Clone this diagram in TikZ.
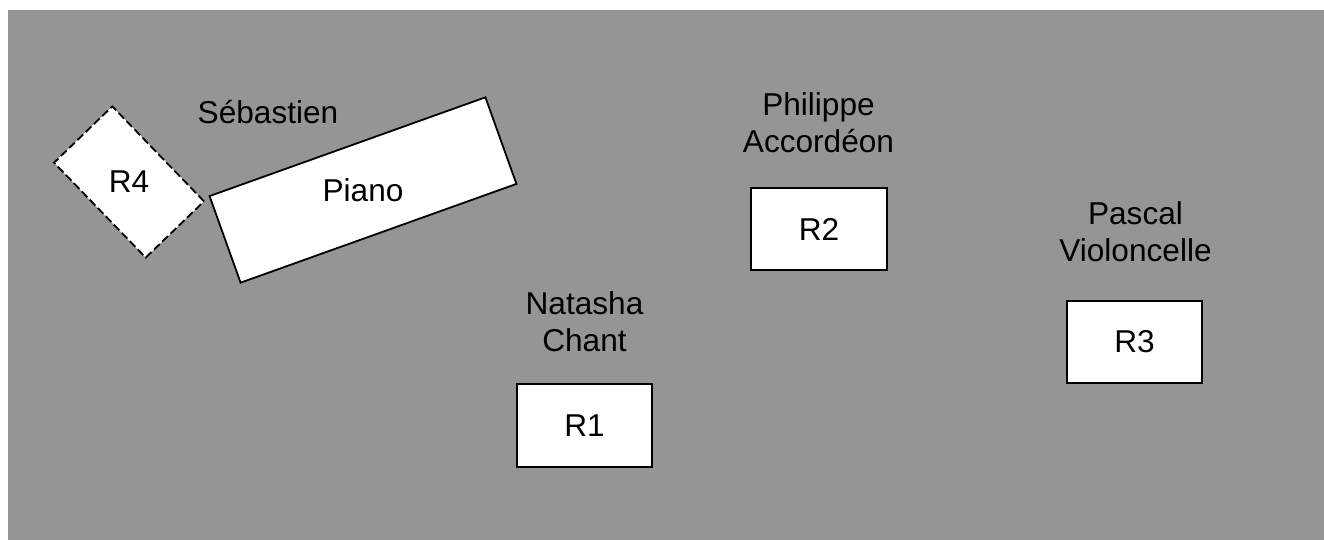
\documentclass[tikz,border=0pt]{standalone}
\usepackage{fontspec}
\setmainfont{Liberation Sans}
\definecolor{stagegray}{RGB}{149,149,149}
\tikzset{
  lbl/.style={font=\fontsize{31.6}{36.5}\selectfont, text=black, inner sep=0pt, align=center},
  rbox/.style={draw=black, fill=white, line width=1.8pt, minimum width=#1, minimum height=82pt, inner sep=0pt},
  rotbox/.style={draw=black, fill=white, line width=1.8pt, inner sep=0pt},
}
\begin{document}
\begin{tikzpicture}[x=1pt,y=-1pt]
\useasboundingbox (0,0) rectangle (1324,540);
\fill[white] (0,0) rectangle (1324,540);
\fill[stagegray] (8,10) rectangle (1324,540);
% Piano
\node[rotbox, rotate=19.7, minimum width=293pt, minimum height=92pt] (piano) at (363,190) {};
\node[lbl] (pianotxt) at (piano.center) {Piano};
% R4
\node[rotbox, dashed, dash pattern=on 8pt off 3.5pt, rotate=-46, minimum width=132pt, minimum height=81pt] (r4) at (129,182) {};
\node[lbl] (r4txt) at (r4.center) {R4};
% Boxes
\node[rbox=135pt, minimum height=83pt] (r1) at (584.5,425.5) {};
\node[lbl] at (r1.center) {R1};
\node[rbox=136pt] (r2) at (819,229) {};
\node[lbl] at (r2.center) {R2};
\node[rbox=135pt] (r3) at (1134.5,342) {};
\node[lbl] at (r3.center) {R3};
% Labels
\node[lbl, anchor=base] (seb) at (268,124) {Sébastien};
\node[lbl, anchor=south] (nat) at (584.5,352) {Natasha\\Chant};
\node[lbl, anchor=south] (phi) at (818.5,153) {Philippe\\Accordéon};
\node[lbl, anchor=south] (pas) at (1135.5,262) {Pascal\\Violoncelle};
\end{tikzpicture}
\end{document}
